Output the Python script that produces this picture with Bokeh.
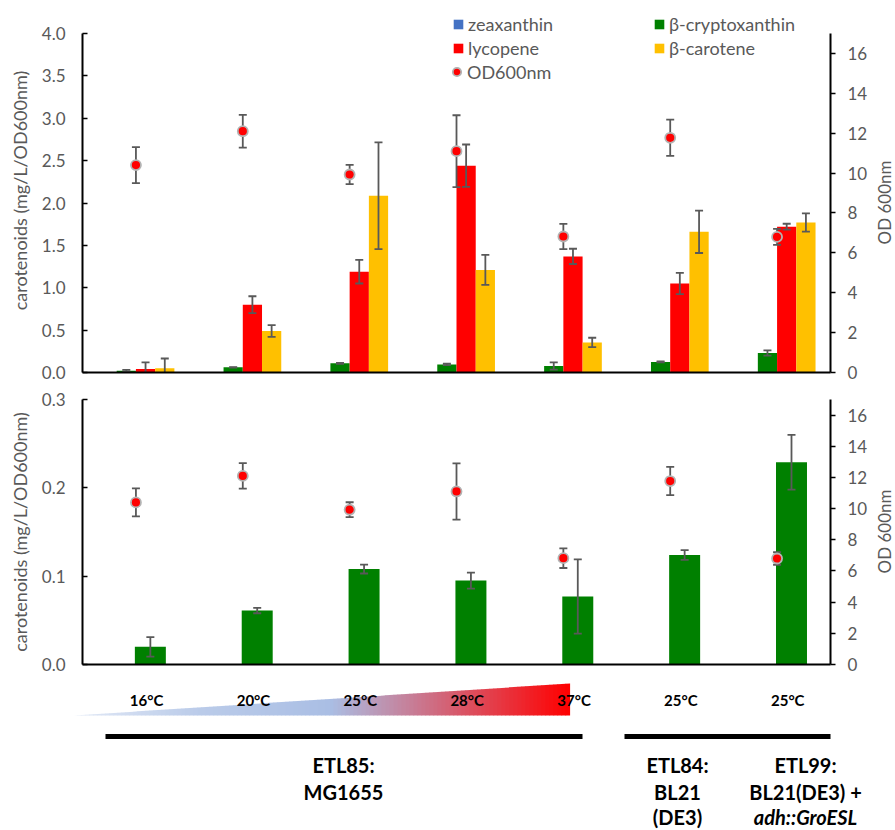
import numpy as np
from bokeh.plotting import figure
from bokeh.models import (ColumnDataSource, Range1d, LinearAxis, Legend,
                          LegendItem, FixedTicker, PrintfTickFormatter)
from bokeh.layouts import column, row
from bokeh.embed import file_html
from bokeh.resources import INLINE
from bokeh.core.properties import value

# ---------------- data ----------------
groups = ["ETL85 16°C", "ETL85 20°C", "ETL85 25°C", "ETL85 28°C", "ETL85 37°C",
          "ETL84 25°C", "ETL99 25°C"]
temps = ["16°C", "20°C", "25°C", "28°C", "37°C", "25°C", "25°C"]

zeaxanthin = [0, 0, 0, 0, 0, 0, 0]
b_cryptoxanthin = [0.020, 0.061, 0.108, 0.095, 0.077, 0.124, 0.229]
b_cryptoxanthin_err = [0.011, 0.003, 0.005, 0.009, 0.042, 0.0055, 0.031]
lycopene = [0.04, 0.80, 1.19, 2.44, 1.37, 1.05, 1.72]
lycopene_err = [0.08, 0.10, 0.14, 0.25, 0.09, 0.125, 0.035]
b_carotene = [0.05, 0.49, 2.085, 1.21, 0.355, 1.66, 1.77]
b_carotene_err = [0.115, 0.07, 0.63, 0.177, 0.055, 0.25, 0.108]
od600 = [10.4, 12.1, 9.93, 11.1, 6.82, 11.77, 6.8]
od600_err = [0.9, 0.82, 0.48, 1.8, 0.63, 0.91, 0.4]

top_ticks = [0, 0.5, 1.0, 1.5, 2.0, 2.5, 3.0, 3.5, 4.0]
bottom_ticks = [0, 0.1, 0.2, 0.3]
od_ticks = [0, 2, 4, 6, 8, 10, 12, 14, 16]

strain_labels = [["ETL85:", "MG1655"], ["ETL84:", "BL21", "(DE3)"],
                 ["ETL99:", "BL21(DE3) +", "adh::GroESL"]]

# ---------------- style ----------------
FONT = "Lato"
GRAY = "#595959"
BLUE = "#4472C4"
GREEN = "#008000"
RED = "#FF0000"
YELLOW = "#FFC000"
ERR = "#595959"

W = 895
SW = 23          # strip for right-hand axis titles
PW = W - SW      # width of the two chart panels
FL = 82          # frame left
FW = 748         # frame width
MR = PW - FL - FW
UNIT = FW / 7.0

n = len(groups)
xpos = [i + 0.5 for i in range(n)]


def lohi(v, e):
    v = np.asarray(v, float)
    e = np.asarray(e, float)
    return list(v - e), list(v + e)


bc_lo, bc_hi = lohi(b_cryptoxanthin, b_cryptoxanthin_err)
ly_lo, ly_hi = lohi(lycopene, lycopene_err)
bk_lo, bk_hi = lohi(b_carotene, b_carotene_err)
od_lo, od_hi = lohi(od600, od600_err)

src = ColumnDataSource(dict(x=xpos, g=groups, od=od600))


def base_fig(height, ymax, yext, ticks, top_border, bottom_border):
    p = figure(x_range=Range1d(0, n), y_range=Range1d(0, yext),
               width=PW, height=height, min_border_left=FL, min_border_right=MR,
               min_border_top=top_border, min_border_bottom=bottom_border,
               output_backend="svg", toolbar_location=None)
    p.xgrid.visible = False
    p.ygrid.visible = False
    p.outline_line_color = None
    xa = p.xaxis[0]
    xa.ticker = FixedTicker(ticks=[])
    xa.axis_line_color = "black"
    xa.axis_line_width = 2
    xa.major_tick_line_color = None
    xa.minor_tick_line_color = None
    xa.major_label_standoff = 0
    ya = p.yaxis[0]
    ya.bounds = (0, ymax)
    ya.ticker = FixedTicker(ticks=ticks)
    ya.formatter = PrintfTickFormatter(format="%.1f")
    ya.axis_line_color = "black"
    ya.axis_line_width = 2
    ya.major_tick_in = 5
    ya.major_tick_out = 0
    ya.major_tick_line_color = "black"
    ya.major_tick_line_width = 1.5
    ya.minor_tick_line_color = None
    ya.major_label_text_font = FONT
    ya.major_label_text_font_size = "17px"
    ya.major_label_text_color = GRAY
    ya.major_label_standoff = 17
    ya.axis_label = "carotenoids (mg/L/OD600nm)"
    ya.axis_label_text_font = FONT
    ya.axis_label_text_font_size = "18px"
    ya.axis_label_text_font_style = "normal"
    ya.axis_label_text_color = GRAY
    ya.axis_label_standoff = 8

    p.extra_y_ranges = {"od": Range1d(0, 17 * yext / ymax)}
    ra = LinearAxis(y_range_name="od", ticker=FixedTicker(ticks=od_ticks), bounds=(0, 17))
    ra.axis_line_color = "black"
    ra.axis_line_width = 2
    ra.major_tick_in = 0
    ra.major_tick_out = 5
    ra.major_tick_line_color = "black"
    ra.major_tick_line_width = 1.5
    ra.minor_tick_line_color = None
    ra.major_label_text_font = FONT
    ra.major_label_text_font_size = "17px"
    ra.major_label_text_color = GRAY
    ra.major_label_standoff = 12
    p.add_layout(ra, "right")
    return p


def errbars(p, xoff, lo, hi, yname="default"):
    xs = [v + xoff for v in xpos]
    s = ColumnDataSource(dict(x=xs, lo=lo, hi=hi))
    p.segment(x0="x", x1="x", y0="lo", y1="hi", source=s, line_color=ERR, line_width=1.8,
              y_range_name=yname)
    for col in ("lo", "hi"):
        p.scatter(x="x", y=col, source=s, marker="dash", size=8, line_color=ERR,
                  line_width=1.8, y_range_name=yname)


def od_points(p):
    errbars(p, 0, od_lo, od_hi, "od")
    return p.scatter(x="x", y="od", source=src, y_range_name="od", size=10,
                     fill_color=RED, line_color="#b3b3b3", line_width=1.8)


def shifted(off):
    return [v + off for v in xpos]


# ---------------- top panel (frame drawn a little taller; axes bounded at 4.0 / 17) ----------------
TOP_H, TOP_T, TOP_B = 386, 8, 14
top_fh = TOP_H - TOP_T - TOP_B
p1 = base_fig(TOP_H, 4.0, 4.0 * top_fh / 339.0, top_ticks, TOP_T, TOP_B)
bw = 0.18
r_zea = p1.vbar(x=shifted(-0.27), top=zeaxanthin, width=bw, fill_color=BLUE, line_color=None)
r_bc = p1.vbar(x=shifted(-0.09), top=b_cryptoxanthin, width=bw, fill_color=GREEN, line_color=None)
r_ly = p1.vbar(x=shifted(0.09), top=lycopene, width=bw, fill_color=RED, line_color=None)
r_bk = p1.vbar(x=shifted(0.27), top=b_carotene, width=bw, fill_color=YELLOW, line_color=None)
errbars(p1, -0.09, bc_lo, bc_hi)
errbars(p1, 0.09, ly_lo, ly_hi)
errbars(p1, 0.27, bk_lo, bk_hi)
r_od = od_points(p1)

leg_kw = dict(padding=0, margin=0, spacing=2, glyph_width=12, glyph_height=12,
              label_height=21, label_standoff=4, label_text_font=FONT,
              label_text_font_size="18px", label_text_color=GRAY,
              background_fill_alpha=0, border_line_color=None)
leg1 = Legend(items=[LegendItem(label="zeaxanthin", renderers=[r_zea]),
                     LegendItem(label="lycopene", renderers=[r_ly])],
              location=(370, 313), **leg_kw)
leg2 = Legend(items=[LegendItem(label="β-cryptoxanthin", renderers=[r_bc]),
                     LegendItem(label="β-carotene", renderers=[r_bk])],
              location=(571, 313), **leg_kw)
leg_od = dict(leg_kw)
leg_od.update(glyph_width=21, glyph_height=25, label_standoff=0)
leg3 = Legend(items=[LegendItem(label="OD600nm", renderers=[r_od])],
              location=(364, 288), **leg_od)
p1.add_layout(leg1)
p1.add_layout(leg2)
p1.add_layout(leg3)

# ---------------- bottom panel ----------------
BOT_H, BOT_T, BOT_B = 288, 13, 10
p2 = base_fig(BOT_H, 0.3, 0.3, bottom_ticks, BOT_T, BOT_B)
p2.vbar(x=shifted(0.135), top=b_cryptoxanthin, width=0.29, fill_color=GREEN, line_color=None)
errbars(p2, 0.135, bc_lo, bc_hi)
od_points(p2)

# ---------------- right-hand strip with the OD axis titles ----------------
SH = TOP_H + BOT_H
strip = figure(width=SW, height=SH, x_range=Range1d(PW, W), y_range=Range1d(0, SH),
               min_border=0, output_backend="svg", toolbar_location=None)
strip.axis.visible = False
strip.grid.visible = False
strip.outline_line_color = None
strip.text(x=[884, 884], y=[SH - 202, SH - 531], text=["OD 600nm", "OD 600nm"],
           angle=np.pi / 2, text_font=value(FONT), text_font_size="17px",
           text_color=GRAY, text_align="center", text_baseline="middle")

# ---------------- annotation strip ----------------
y_top, y_bot = 674, 830
p3 = figure(width=W, height=y_bot - y_top, x_range=Range1d(-FL / UNIT, (W - FL) / UNIT),
            y_range=Range1d(y_bot, y_top), min_border=0,
            output_backend="svg", toolbar_location=None)
p3.axis.visible = False
p3.grid.visible = False
p3.outline_line_color = None


def sx(px):
    return (px - FL) / UNIT


# temperature gradient wedge
stops = [(73, (226, 233, 246)), (200, (186, 203, 233)), (330, (170, 190, 228)),
         (569, (255, 0, 0))]


def col_at(x):
    for (xa, ca), (xb, cb) in zip(stops[:-1], stops[1:]):
        if x <= xb:
            t = (x - xa) / (xb - xa)
            c = [int(round(ca[k] + t * (cb[k] - ca[k]))) for k in range(3)]
            return "#%02x%02x%02x" % tuple(c)
    return "#ff0000"


edges = np.linspace(73, 569, 125)
xs, ys, cs = [], [], []
for a, b in zip(edges[:-1], edges[1:]):
    ta = 715 - (a - 73) / (569 - 73) * 32
    tb = 715 - (b - 73) / (569 - 73) * 32
    bb = b + 0.6
    xs.append([sx(a), sx(bb), sx(bb), sx(a)])
    ys.append([715, 715, tb, ta])
    cs.append(col_at((a + b) / 2))
p3.patches(xs=xs, ys=ys, fill_color=cs, line_color=None)

p3.text(x=[v + 0.1 for v in xpos], y=[699] * n, text=temps,
        text_font=value(FONT), text_font_style="bold", text_font_size="15px",
        text_align="center", text_baseline="middle", text_color="black")

p3.segment(x0=[sx(105), sx(624)], x1=[sx(582), sx(830)], y0=[736, 736], y1=[736, 736],
           line_color="black", line_width=5)

centers = [sx(343), sx(677), sx(805)]
line_y = [764, 791, 816]
for cx, lines in zip(centers, strain_labels):
    for j, t in enumerate(lines):
        style = "bold italic" if t.startswith("adh") else "bold"
        p3.text(x=[cx], y=[line_y[j]], text=[t], text_font=value(FONT),
                text_font_style=style, text_font_size="20px", text_align="center",
                text_baseline="middle", text_color="black")

layout = column(row(column(p1, p2, spacing=0), strip, spacing=0), p3, spacing=0)
open("out.html", "w").write(file_html(layout, INLINE))
